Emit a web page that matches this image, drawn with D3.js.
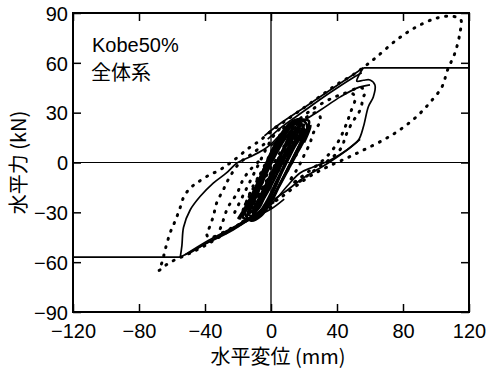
<!DOCTYPE html>
<html>
<head>
<meta charset="utf-8">
<script src="https://cdn.jsdelivr.net/npm/d3@7"></script>
<style>
  html, body { margin: 0; padding: 0; background: #fff; }
  svg { display: block; }
  text { font-family: "Liberation Sans", Arial, Helvetica, sans-serif; fill: #000; }
  .cjk { font-family: "Noto Sans CJK JP", "Noto Sans CJK SC", sans-serif; }
</style>
</head>
<body>
<svg id="chart" width="499" height="370"></svg>
<script>
// Axis ranges and tick labels
const xDomain = [-120, 120];
const yDomain = [-90, 90];
const xTicks = [-120, -80, -40, 0, 40, 80, 120];
const yTicks = [-90, -60, -30, 0, 30, 60, 90];

// Ultimate strength level (kN), drawn as horizontal limit lines
const strengthNeg = [[-120, -57], [-55, -57]];
const strengthPos = [[56, 57], [120, 57]];

// Analysis result (solid): horizontal displacement (mm), horizontal force (kN)
const solidCenter = [
  [-18, -33], [-12, -22], [-6, -8], [0, 6], [6, 17], [12, 24], [18, 26], [22, 22],
  [18, 12], [12, 0], [6, -12], [0, -24], [-6, -32], [-12, -35], [-16, -30],
  [-10, -18], [-4, -4], [2, 8], [8, 18], [14, 23], [19, 22], [15, 12], [9, 0],
  [3, -12], [-3, -24], [-9, -32], [-14, -31], [-9, -20], [-3, -7], [3, 5], [9, 15],
  [15, 21], [12, 12], [6, 1], [0, -11], [-6, -22], [-11, -29], [-7, -21], [-1, -9],
  [5, 3], [11, 13], [17, 19], [21, 17], [16, 6], [10, -5], [4, -16], [-2, -27],
  [-8, -31], [-13, -28], [-8, -16], [-2, -3], [4, 9], [10, 19], [16, 25], [20, 20],
  [14, 9], [8, -3], [2, -15], [-4, -26], [-10, -33]
];
const solidCenter2 = [
  [-20, -34], [-15, -26], [-9, -14], [-3, -1], [3, 11], [9, 20], [14, 25], [23, 25],
  [20, 16], [14, 4], [8, -8], [2, -19], [-4, -29], [-10, -34], [-17, -33],
  [-12, -24], [-7, -12], [-1, 1], [5, 13], [11, 21], [17, 24], [13, 14], [7, 3],
  [1, -8], [-5, -19], [-11, -29], [-6, -24], [0, -14], [6, -2], [12, 9], [18, 16],
  [24, 22], [20, 12]
];
const solidCenter3 = [
  [-15, -33], [-11, -25], [-7, -16], [-3, -6], [1, 4], [5, 12], [9, 19], [13, 22],
  [10, 14], [6, 5], [2, -5], [-2, -15], [-6, -24], [-11, -31], [-7, -27], [-3, -18],
  [1, -8], [5, 2], [9, 10], [13, 17], [17, 22], [15, 14], [11, 5], [7, -4], [3, -14],
  [-1, -22], [-5, -29]
];
const solidUpperEnvelope1 = [[-4, 16], [5, 23], [20, 33], [35, 43], [47, 51], [56, 57]];
const solidUpperEnvelope2 = [[-2, 14], [6, 21], [20, 31], [35, 41.5], [48, 50], [55, 54]];
const solidPeakLoop = [
  [56, 57], [53, 52], [52, 49], [56, 49.5], [60, 49.7], [63, 46.7], [62, 39.5],
  [59, 33.6], [56, 21.5], [53, 13.5], [46, 7.5], [36, 1.5], [25.6, -2.7], [17.6, -6.3],
  [10, -14], [4, -21], [0, -25], [-7, -30], [-23, -40.6], [-43, -50.7], [-55, -57]
];
const solidInnerLoading = [
  [0, 10], [9.7, 17.7], [17.6, 23.7], [30, 31.6], [42, 39.5], [52, 44.8], [60, 46.7]
];
const solidNegLoop = [
  [-55, -57], [-54, -50], [-53, -39], [-49, -28.6], [-43, -20.5], [-35, -12.4],
  [-27, -6.3], [-20.6, -0.3], [-12.7, 3.4], [-4.8, 7.5], [0, 11], [5, 16], [10, 20]
];
const solidLowerEnvelope1 = [[-50, -55], [-40, -49], [-25, -41], [-10, -33], [0, -28], [8, -22]];
const solidLowerEnvelope2 = [[-52, -55.5], [-38, -47], [-22, -38.5], [-8, -30], [2, -24]];
const solidLowerRight = [[-4, -26], [8, -18], [20, -9], [32, -2], [44, 6], [54, 14]];

// Test result (dotted)
const dotCenter = [
  [-16, -30], [-10, -20], [-4, -10], [2, 0], [8, 10], [14, 18], [20, 24], [16, 14],
  [10, 4], [4, -6], [-2, -16], [-8, -25], [-14, -31], [-9, -22], [-3, -12], [3, -2],
  [9, 8], [15, 16], [11, 8], [5, -2], [-1, -12], [-7, -22], [-12, -28], [-6, -17],
  [0, -6], [6, 5], [12, 14], [18, 21], [13, 11], [7, 0], [1, -10], [-5, -20]
];
const dotCenterLeft = [
  [-22, -30], [-17, -20], [-12, -10], [-7, 0], [-2, 10], [3, 18], [8, 22],
  [4, 14], [-1, 4], [-6, -6], [-11, -16], [-16, -26]
];
const dotNegLoop = [
  [0, -27], [-10, -32], [-20, -38], [-30, -44], [-40, -50], [-50, -55], [-59, -59],
  [-64, -62], [-68, -65], [-66, -60], [-64, -52], [-61, -42], [-58, -35], [-55, -27],
  [-53, -21], [-49, -15.4], [-45, -12.4], [-39, -8.4], [-31, -4.4], [-23, 1],
  [-13, 9], [-7, 13], [-1, 18], [5, 23]
];
const dotPosLoop = [
  [-1, 18], [10, 26], [20, 33], [30, 40], [40, 47], [50, 53], [57, 58], [64, 63.5],
  [76, 73.7], [88, 81.6], [100.6, 87], [110, 88], [115, 86], [114.5, 78], [111.5, 66],
  [107, 55.7], [103.6, 45.5], [96, 35.7], [88, 27.4], [78, 19.6], [68, 13.5], [56, 7.5],
  [46, 2.7], [34, -2.7], [24, -8], [14, -15], [6, -21], [0, -25]
];
const dotInnerPos1 = [
  [50, 44], [55, 45], [57, 42], [56, 39.5], [54, 31.6], [49, 23.7], [45, 15.4],
  [43, 9.4], [37.6, 3.4], [30, -2], [22, -8], [14, -14]
];
const dotInnerPos2 = [
  [10, 20], [25, 32], [40, 40], [48, 42], [51, 39.5], [48, 29.6], [45, 21.5],
  [41, 13], [36, 6], [30, 0], [22, -6], [14, -12]
];
const dotInnerPos3 = [
  [5, 15], [18, 25], [28, 30], [30, 25.6], [25.6, 17.7], [23.6, 11.6], [19.6, 3.4],
  [16.6, -2.7], [12, -10]
];
const dotInnerPos4 = [[4, 12], [14, 19], [23.6, 21.5], [20, 15], [17.6, 9.4], [13.6, 1.5], [8, -8]];
const dotInnerNeg1 = [
  [-20, -38], [-30, -43], [-38, -45], [-39, -42], [-38, -40.6], [-35, -32.5],
  [-33, -24.5], [-29, -16.6], [-25, -8.7], [-19, -0.3], [-11, 5.6], [-3, 12]
];
const dotInnerNeg2 = [
  [-15, -35], [-25, -40], [-31, -42.5], [-29, -35], [-26, -26.8], [-20.6, -18.6],
  [-17, -10.5], [-12.7, -4.5], [-6, 2]
];
const dotInnerNeg3 = [[-12, -33], [-19, -36], [-19, -34.6], [-14.5, -22.6], [-11, -14.5], [-6, -6]];

const solidCenterSeries = [solidCenter, solidCenter2, solidCenter3];
const solidSeries = [solidUpperEnvelope1, solidUpperEnvelope2, solidPeakLoop,
  solidInnerLoading, solidNegLoop, solidLowerEnvelope1, solidLowerEnvelope2, solidLowerRight];
const dottedSeries = [dotCenter, dotCenterLeft, dotNegLoop, dotPosLoop, dotInnerPos1,
  dotInnerPos2, dotInnerPos3, dotInnerPos4, dotInnerNeg1, dotInnerNeg2, dotInnerNeg3];

// Layout
const plot = { left: 73, right: 469, top: 13, bottom: 312 };
const svg = d3.select("#chart");

const x = d3.scaleLinear().domain(xDomain).range([plot.left, plot.right]);
const y = d3.scaleLinear().domain(yDomain).range([plot.bottom, plot.top]);

const line = d3.line().x(d => x(d[0])).y(d => y(d[1])).curve(d3.curveCatmullRom.alpha(0.5));
const straight = d3.line().x(d => x(d[0])).y(d => y(d[1]));

svg.append("defs").append("clipPath").attr("id", "plotClip")
  .append("rect").attr("x", plot.left).attr("y", plot.top)
  .attr("width", plot.right - plot.left).attr("height", plot.bottom - plot.top);

// Zero reference lines
svg.append("line")
  .attr("x1", x(-120)).attr("x2", x(120)).attr("y1", y(0)).attr("y2", y(0))
  .attr("stroke", "#000").attr("stroke-width", 1.1);
svg.append("line")
  .attr("x1", x(0)).attr("x2", x(0)).attr("y1", y(-90)).attr("y2", y(90))
  .attr("stroke", "#000").attr("stroke-width", 1.3);

const data = svg.append("g").attr("clip-path", "url(#plotClip)");

// Strength limit lines
[strengthNeg, strengthPos].forEach(seg => {
  data.append("path").attr("d", straight(seg))
    .attr("fill", "none").attr("stroke", "#000").attr("stroke-width", 1.8);
});

// Dense small-amplitude cycles near the origin
data.selectAll("path.center").data(solidCenterSeries).join("path")
  .attr("class", "center")
  .attr("d", line)
  .attr("fill", "none").attr("stroke", "#000").attr("stroke-width", 2.6)
  .attr("stroke-linejoin", "round");

// Solid curves
data.selectAll("path.solid").data(solidSeries).join("path")
  .attr("class", "solid")
  .attr("d", line)
  .attr("fill", "none").attr("stroke", "#000").attr("stroke-width", 1.7)
  .attr("stroke-linejoin", "round");

// Dotted curves
data.selectAll("path.dotted").data(dottedSeries).join("path")
  .attr("class", "dotted")
  .attr("d", line)
  .attr("fill", "none").attr("stroke", "#000").attr("stroke-width", 3)
  .attr("stroke-linecap", "round")
  .attr("stroke-dasharray", "1 7.5");

// Axes with inward ticks
const fmt = d => (d < 0 ? "\u2212" + Math.abs(d) : String(d));
const tickLen = 8;

const gx = svg.append("g").attr("transform", `translate(0,${plot.bottom})`)
  .call(d3.axisBottom(x).tickValues(xTicks).tickSizeInner(-tickLen).tickSizeOuter(0).tickPadding(12).tickFormat(fmt));
const gxTop = svg.append("g").attr("transform", `translate(0,${plot.top})`)
  .call(d3.axisTop(x).tickValues(xTicks).tickSizeInner(-tickLen).tickSizeOuter(0).tickFormat(""));
const gy = svg.append("g").attr("transform", `translate(${plot.left},0)`)
  .call(d3.axisLeft(y).tickValues(yTicks).tickSizeInner(-tickLen).tickSizeOuter(0).tickPadding(5).tickFormat(fmt));
const gyRight = svg.append("g").attr("transform", `translate(${plot.right},0)`)
  .call(d3.axisRight(y).tickValues(yTicks).tickSizeInner(-tickLen).tickSizeOuter(0).tickFormat(""));

[gx, gxTop, gy, gyRight].forEach(g => {
  g.select(".domain").remove();
  g.selectAll(".tick line").attr("stroke", "#000").attr("stroke-width", 1.5);
  g.selectAll(".tick text").attr("font-size", 20)
    .attr("font-family", "'Liberation Sans', Arial, sans-serif").attr("fill", "#000");
});
gy.selectAll(".tick text").attr("dy", "0.36em");

// Frame
svg.append("rect")
  .attr("x", plot.left).attr("y", plot.top)
  .attr("width", plot.right - plot.left).attr("height", plot.bottom - plot.top)
  .attr("fill", "none").attr("stroke", "#000").attr("stroke-width", 2);

// Annotations
svg.append("text").attr("x", 92).attr("y", 52).attr("font-size", 20).text("Kobe50%");
svg.append("text").attr("class", "cjk").attr("x", 91).attr("y", 80).attr("font-size", 20).text("全体系");

// Axis titles
svg.append("text").attr("class", "cjk")
  .attr("transform", `translate(26,${(plot.top + plot.bottom) / 2}) rotate(-90)`)
  .attr("text-anchor", "middle").attr("font-size", 20)
  .text("水平力 (kN)");
svg.append("text").attr("class", "cjk")
  .attr("x", 278).attr("y", 364)
  .attr("text-anchor", "middle").attr("font-size", 20)
  .text("水平変位 (mm)");
</script>
</body>
</html>
